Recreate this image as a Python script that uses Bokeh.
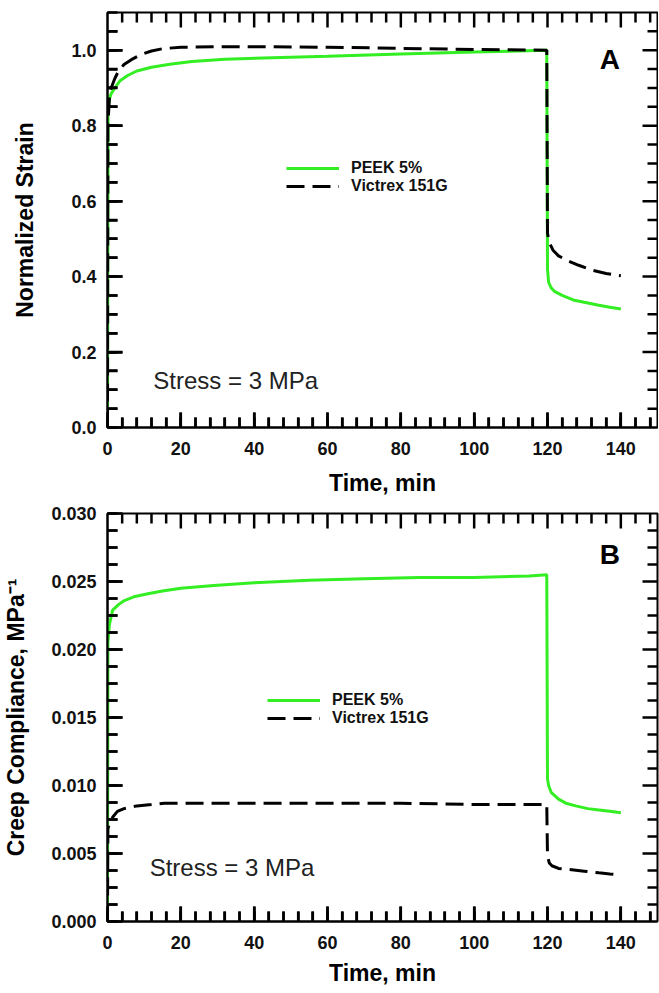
from bokeh.plotting import figure
from bokeh.layouts import column
from bokeh.models import (SingleIntervalTicker, NumeralTickFormatter,
                          Range1d, Legend, LegendItem, Label)
from bokeh.embed import file_html
from bokeh.resources import INLINE

# ---------------- data ----------------
# Panel A: normalized strain
a_peek_t = [0, 0.15, 0.5, 1, 2, 3.5, 5.5, 8, 12, 17, 23, 32, 45, 60, 80, 100, 119.8,
            120, 120.3, 121, 122, 124, 127, 130, 134, 137, 140]
a_peek_v = [0, 0.84, 0.87, 0.885, 0.90, 0.92, 0.933, 0.945, 0.955, 0.963, 0.970, 0.976,
            0.980, 0.984, 0.990, 0.995, 1.0,
            0.42, 0.385, 0.37, 0.36, 0.35, 0.338, 0.332, 0.324, 0.319, 0.314]

a_vic_t = [0, 0.1, 0.5, 1, 2, 3, 4.5, 6.5, 9, 12, 15, 20, 30, 45, 60, 80, 100, 119.8,
           120, 120.5, 121.5, 123, 125.5, 128.5, 132.5, 136, 140]
a_vic_v = [0, 0.80, 0.87, 0.90, 0.925, 0.945, 0.962, 0.975, 0.988, 0.998, 1.004, 1.008,
           1.009, 1.009, 1.008, 1.005, 1.002, 1.0,
           0.515, 0.49, 0.47, 0.455, 0.442, 0.43, 0.416, 0.408, 0.402]

# Panel B: creep compliance (1/MPa)
b_peek_t = [0, 0.1, 0.5, 1.4, 3, 4.6, 7.5, 11, 15, 20, 29, 40, 55, 70, 85, 100, 115, 119.8,
            120, 120.3, 121, 123, 125, 127.7, 131, 134, 137, 140]
b_peek_v = [0, 0.0205, 0.0218, 0.0229, 0.0233, 0.0236, 0.0239, 0.0241, 0.0243, 0.0245,
            0.0247, 0.0249, 0.0251, 0.0252, 0.0253, 0.0253, 0.0254, 0.0255,
            0.0105, 0.0100, 0.0095, 0.0090, 0.0087, 0.0085, 0.0083, 0.0082, 0.0081, 0.0080]

b_vic_t = [0, 0.1, 0.6, 1.5, 2.7, 4.5, 8, 12, 15.5, 25, 40, 60, 80, 100, 119.8,
           120, 120.5, 121.2, 123, 126.6, 130, 134, 137, 140]
b_vic_v = [0, 0.0068, 0.0073, 0.0077, 0.0081, 0.0083, 0.0085, 0.0086, 0.0087, 0.0087,
           0.0087, 0.0087, 0.0087, 0.0086, 0.0086,
           0.0048, 0.0043, 0.0041, 0.0039, 0.0038, 0.0037, 0.00358, 0.0035, 0.00344]

series_names = ["PEEK 5%", "Victrex 151G"]
x_title = "Time, min"
a_y_title = "Normalized Strain"
b_y_title = "Creep Compliance, MPa\u207b\u00b9"
note_text = "Stress = 3 MPa"

# axis ranges / tick intervals
x_max = 150
x_major_step, x_minor_div = 20, 5
a_y_max, a_y_step = 1.1, 0.2
b_y_max, b_y_step = 0.030, 0.005
y_minor_div = 4

GREEN = "#33EE22"
FONT = "Liberation Sans"
MAJOR_PX, MINOR_PX = 15, 10
TICK_W = 2.5


def style_axis(ax, fmt):
    ax.axis_line_width = 2
    ax.axis_line_color = "black"
    ax.major_tick_line_color = "black"
    ax.minor_tick_line_color = "black"
    ax.major_tick_line_width = TICK_W
    ax.minor_tick_line_width = TICK_W
    ax.major_tick_in = MAJOR_PX
    ax.major_tick_out = 0
    ax.minor_tick_in = MINOR_PX
    ax.minor_tick_out = 0
    ax.major_label_text_font = FONT
    ax.major_label_text_font_style = "bold"
    ax.major_label_text_font_size = "18px"
    ax.major_label_text_color = "#111111"
    ax.axis_label_text_font = FONT
    ax.axis_label_text_font_style = "bold"
    ax.axis_label_text_font_size = "23px"
    ax.axis_label_text_color = "black"
    ax.formatter = fmt


def tick_positions(vmax, step, div):
    sub = step / div
    n = int(vmax / sub + 1e-6)
    n_last = n - 1 if abs(n * sub - vmax) < 1e-9 * max(1.0, vmax) else n
    major, minor = [], []
    for k in range(1, n_last + 1):
        (major if k % div == 0 else minor).append(k * sub)
    return major, minor


def draw_ticks(p, fw, fh, xmax, ymax, xstep, xdiv, ystep, ydiv):
    # mirrored ticks on the top and right frame edges
    xmaj, xmin_ = tick_positions(xmax, xstep, xdiv)
    ymaj, ymin_ = tick_positions(ymax, ystep, ydiv)
    px_x = xmax / fw
    px_y = ymax / fh
    kw = dict(line_color="black", line_width=TICK_W)
    for xs, ln in ((xmaj, MAJOR_PX), (xmin_, MINOR_PX)):
        d = ln * px_y
        n = len(xs)
        p.segment(x0=xs, y0=[ymax] * n, x1=xs, y1=[ymax - d] * n, **kw)
        p.segment(x0=xs, y0=[0] * n, x1=xs, y1=[d] * n, **kw)
    for ys, ln in ((ymaj, MAJOR_PX), (ymin_, MINOR_PX)):
        d = ln * px_x
        n = len(ys)
        p.segment(x0=[xmax] * n, y0=ys, x1=[xmax - d] * n, y1=ys, **kw)
        p.segment(x0=[0] * n, y0=ys, x1=[d] * n, y1=ys, **kw)


def make_panel(fw, fh, left, right, top, bottom, ymax, yint, yfmt, ytitle,
               peek_t, peek_v, vic_t, vic_v, legend_loc, letter, letter_xy, note_xy,
               y_label_standoff, x_label_standoff):
    p = figure(frame_width=fw, frame_height=fh, output_backend="svg",
               toolbar_location=None,
               x_range=Range1d(0, x_max), y_range=Range1d(0, ymax),
               min_border_left=left, min_border_right=right,
               min_border_top=top, min_border_bottom=bottom)
    p.grid.visible = False
    p.outline_line_color = "black"
    p.outline_line_width = 2

    xa = p.xaxis[0]
    xa.ticker = SingleIntervalTicker(interval=x_major_step, num_minor_ticks=x_minor_div)
    style_axis(xa, NumeralTickFormatter(format="0"))
    xa.axis_label = x_title
    xa.major_label_standoff = 14
    xa.axis_label_standoff = x_label_standoff

    ya = p.yaxis[0]
    ya.ticker = SingleIntervalTicker(interval=yint, num_minor_ticks=y_minor_div)
    style_axis(ya, NumeralTickFormatter(format=yfmt))
    ya.axis_label = ytitle
    ya.major_label_standoff = 11
    ya.axis_label_standoff = y_label_standoff

    g = p.line(peek_t, peek_v, line_color=GREEN, line_width=3)
    k = p.line(vic_t, vic_v, line_color="black", line_width=3, line_dash="18 8")

    draw_ticks(p, fw, fh, x_max, ymax, x_major_step, x_minor_div, yint, y_minor_div)

    leg = Legend(items=[LegendItem(label=series_names[0], renderers=[g]),
                        LegendItem(label=series_names[1], renderers=[k])],
                 location=legend_loc, padding=0, margin=0, spacing=0,
                 glyph_width=53, glyph_height=18, label_height=18,
                 label_standoff=12, border_line_color=None,
                 background_fill_alpha=0,
                 label_text_font=FONT, label_text_font_style="bold",
                 label_text_font_size="16px", label_text_color="#111111")
    p.add_layout(leg)

    p.add_layout(Label(x=letter_xy[0], y=letter_xy[1], text=letter,
                       text_font=FONT, text_font_style="bold", text_font_size="28px",
                       text_align="center", text_baseline="middle", text_color="black"))
    p.add_layout(Label(x=note_xy[0], y=note_xy[1], text=note_text,
                       text_font=FONT, text_font_size="24px",
                       text_align="left", text_baseline="middle", text_color="#222222"))
    return p


pa = make_panel(550, 415, 106, 2, 12, 74, a_y_max, a_y_step, "0.0", a_y_title,
                a_peek_t, a_peek_v, a_vic_t, a_vic_v,
                (179, 232), "A", (137.0, 0.975), (12.5, 0.124), 30, 12)
pb = make_panel(550, 408, 106, 2, 12, 70, b_y_max, b_y_step, "0.000", b_y_title,
                b_peek_t, b_peek_v, b_vic_t, b_vic_v,
                (160, 194), "B", (137.0, 0.0270), (11.5, 0.0040), 19, 8)

layout = column(pa, pb, spacing=0)
open("out.html", "w").write(file_html(layout, INLINE))
